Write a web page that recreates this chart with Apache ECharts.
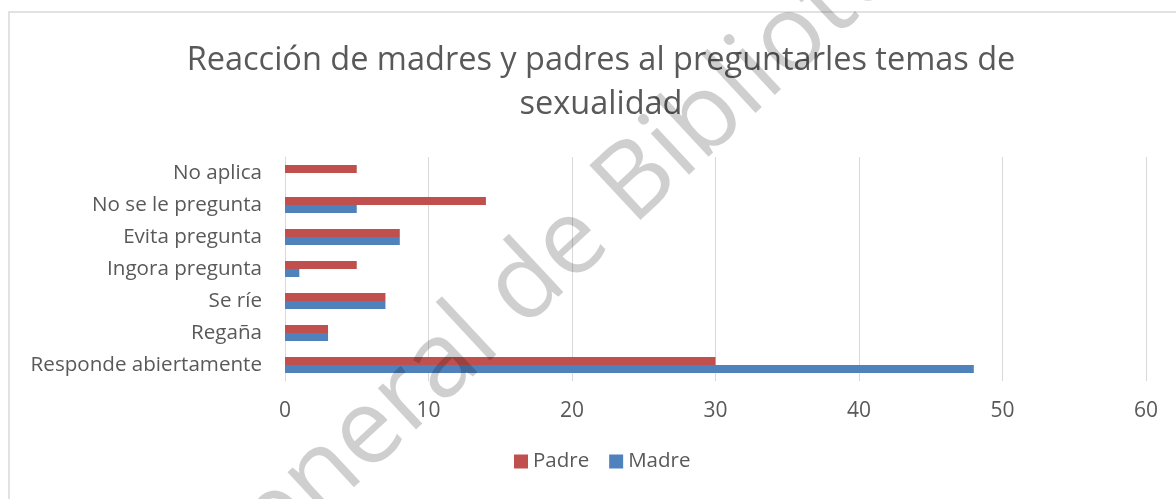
<!DOCTYPE html>
<html>
<head>
    <meta charset="utf-8">
    <title>Reacción de madres y padres</title>
    <script src="https://cdn.jsdelivr.net/npm/echarts@6/dist/echarts.min.js"></script>
    <style>
        html, body { margin: 0; padding: 0; background: #fff; }
        #main { width: 1176px; height: 499px; }
    </style>
</head>
<body>
<div id="main"></div>
<script type="text/javascript">
    // categorias, de abajo hacia arriba como en el grafico
    var categorias = ['Responde abiertamente', 'Regaña', 'Se ríe', 'Ingora pregunta',
        'Evita pregunta', 'No se le pregunta', 'No aplica'];
    var padre = [30, 3, 7, 5, 8, 14, 5];
    var madre = [48, 3, 7, 1, 8, 5, 0];
    var ticks = [0, 10, 20, 30, 40, 50, 60];

    var fuente = 'Open Sans';
    var gris = '#595959';

    var myChart = echarts.init(document.getElementById('main'));

    var option = {
        backgroundColor: '#ffffff',
        animation: false,
        title: {
            text: 'Reacción de madres y padres al preguntarles temas de\nsexualidad',
            left: 596,
            textAlign: 'center',
            top: 34,
            textStyle: {
                fontFamily: fuente,
                fontSize: 32.5,
                fontWeight: 'normal',
                color: gris,
                lineHeight: 44
            }
        },
        legend: {
            data: ['Padre', 'Madre'],
            top: 451,
            left: 514,
            padding: 0,
            icon: 'rect',
            itemWidth: 14,
            itemHeight: 14,
            itemGap: 20,
            textStyle: { fontFamily: fuente, fontSize: 20.5, color: gris }
        },
        grid: {
            left: 285,
            right: 30,
            top: 157,
            bottom: 118
        },
        xAxis: {
            type: 'value',
            min: ticks[0],
            max: ticks[ticks.length - 1],
            interval: 10,
            axisLine: { show: false },
            axisTick: { show: false },
            splitLine: { lineStyle: { color: '#d9d9d9', width: 1 } },
            axisLabel: { fontFamily: fuente, fontSize: 21, color: gris, margin: 20 }
        },
        yAxis: {
            type: 'category',
            data: categorias,
            axisLine: { show: true, lineStyle: { color: '#d9d9d9' } },
            axisTick: { show: false },
            axisLabel: { fontFamily: fuente, fontSize: 20.6, color: gris, margin: 23 }
        },
        series: [
            {
                name: 'Padre',
                type: 'bar',
                data: padre,
                itemStyle: { color: '#C0504D' },
                barGap: '0%',
                barCategoryGap: '50%'
            },
            {
                name: 'Madre',
                type: 'bar',
                data: madre,
                itemStyle: { color: '#4F81BD' },
                barGap: '0%',
                barCategoryGap: '50%'
            }
        ],
        graphic: [
            {
                type: 'rect',
                shape: { x: 9, y: 12, width: 1300, height: 600 },
                style: { fill: 'none', stroke: '#d9d9d9', lineWidth: 1.5 },
                silent: true
            },
            {
                // marca de agua
                type: 'text',
                x: 200,
                y: 590,
                rotation: 43 * Math.PI / 180,
                z: 100,
                silent: true,
                style: {
                    text: 'General de Bibliotecas',
                    fontFamily: fuente,
                    fontSize: 105,
                    fill: 'rgba(0,0,0,0.19)',
                    align: 'left',
                    verticalAlign: 'middle'
                }
            }
        ]
    };

    myChart.setOption(option);
</script>
</body>
</html>
